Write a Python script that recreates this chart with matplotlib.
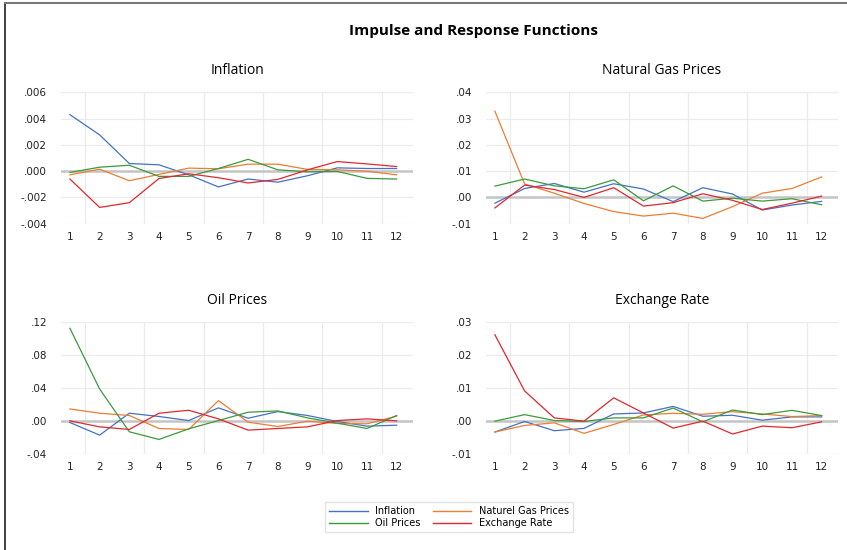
import matplotlib
matplotlib.use("Agg")
import matplotlib.pyplot as plt
from matplotlib.lines import Line2D

periods = list(range(1, 13))

# responses of Inflation
inf_inf = [0.0043, 0.00276, 0.00058, 0.00048, -0.00028, -0.0012, -0.0006, -0.00084, -0.00035, 0.00025, 0.0002, 0.0002]
inf_gas = [-0.00028, 0.00015, -0.00073, -0.00025, 0.00023, 0.00018, 0.00053, 0.00053, 0.00013, 0.0001, 0.0, -0.00028]
inf_oil = [-0.0001, 0.0003, 0.00045, -0.0004, -0.0004, 0.0002, 0.0009, 0.0001, -0.00005, -0.00002, -0.00055, -0.0006]
inf_exr = [-0.0006, -0.00276, -0.0024, -0.00056, -0.0002, -0.0005, -0.0009, -0.00063, 0.0001, 0.00073, 0.00055, 0.00035]

# responses of Natural Gas Prices
gas_inf = [-0.0022, 0.0034, 0.0053, 0.002, 0.0052, 0.0032, -0.0016, 0.0037, 0.0013, -0.0048, -0.0029, -0.0015]
gas_gas = [0.0328, 0.0051, 0.0016, -0.0023, -0.0054, -0.0071, -0.006, -0.008, -0.0035, 0.0016, 0.0034, 0.0078]
gas_oil = [0.0043, 0.007, 0.0044, 0.0033, 0.0067, -0.0013, 0.0044, -0.0014, -0.0003, -0.0014, -0.0005, -0.0028]
gas_exr = [-0.004, 0.0047, 0.003, 0.0, 0.0037, -0.0033, -0.002, 0.0014, -0.0011, -0.0046, -0.0022, 0.0005]

# responses of Oil Prices
oil_inf = [-0.002, -0.0174, 0.0093, 0.0053, 0.0004, 0.0158, 0.0032, 0.0113, 0.0065, -0.0008, -0.0065, -0.0053]
oil_gas = [0.0145, 0.0093, 0.0065, -0.0093, -0.0105, 0.0246, -0.0016, -0.0069, -0.0004, -0.0032, -0.0036, 0.0057]
oil_oil = [0.1127, 0.0388, -0.0133, -0.0226, -0.0097, 0.0004, 0.0105, 0.0121, 0.0036, -0.0028, -0.0093, 0.0065]
oil_exr = [0.0, -0.0073, -0.0105, 0.0093, 0.0129, 0.0024, -0.0113, -0.0093, -0.0073, 0.0004, 0.0024, 0.0]

# responses of Exchange Rate
exr_inf = [-0.0034, -0.0002, -0.003, -0.0023, 0.0021, 0.0024, 0.0044, 0.0014, 0.0017, 0.0002, 0.0012, 0.0012]
exr_gas = [-0.0034, -0.0014, -0.0006, -0.0038, -0.0011, 0.0018, 0.0023, 0.002, 0.0028, 0.0021, 0.0013, 0.0016]
exr_oil = [-0.0001, 0.0019, 0.0001, -0.0002, 0.0009, 0.0009, 0.0039, -0.0003, 0.0033, 0.0019, 0.0032, 0.0016]
exr_exr = [0.0262, 0.0091, 0.0009, -0.0001, 0.007, 0.0024, -0.0022, -0.0001, -0.004, -0.0016, -0.0021, -0.0003]

shock_names = ["Inflation", "Naturel Gas Prices", "Oil Prices", "Exchange Rate"]
colors = ["#4472C4", "#ED7D31", "#3C9A3C", "#E0282E"]

panels = [
    ("Inflation", [inf_inf, inf_gas, inf_oil, inf_exr], [-0.004, -0.002, 0.0, 0.002, 0.004, 0.006], 3),
    ("Natural Gas Prices", [gas_inf, gas_gas, gas_oil, gas_exr], [-0.01, 0.0, 0.01, 0.02, 0.03, 0.04], 2),
    ("Oil Prices", [oil_inf, oil_gas, oil_oil, oil_exr], [-0.04, 0.0, 0.04, 0.08, 0.12], 2),
    ("Exchange Rate", [exr_inf, exr_gas, exr_oil, exr_exr], [-0.01, 0.0, 0.01, 0.02, 0.03], 2),
]

W, H = 847, 550
fig = plt.figure(figsize=(W / 100, H / 100), dpi=100)

# pixel boxes: left, top, width, height
boxes = [(61, 92.3, 352, 131.4), (486, 92.3, 352, 131.4),
         (61, 322.3, 352, 131.4), (486, 322.3, 352, 131.4)]

def fmt(v, dec):
    s = f"{v:.{dec}f}"
    return s.replace("0.", ".", 1)

for (title, series, ticks, dec), (l, t, w, h) in zip(panels, boxes):
    ax = fig.add_axes([l / W, 1 - (t + h) / H, w / W, h / H])
    for vals, c, name in zip(series, colors, shock_names):
        ax.plot(periods, vals, color=c, lw=0.9, zorder=3)
    ax.set_xlim(0.7, 12.55)
    ax.set_ylim(ticks[0], ticks[-1])
    ax.set_yticks(ticks)
    ax.set_yticklabels([fmt(v, dec) for v in ticks])
    ax.set_xticks(periods)
    ax.set_xticklabels([str(p) for p in periods])
    for v in ticks:
        if v == 0:
            ax.axhline(v, color="#C4C4C4", lw=1.8, zorder=2)
        else:
            ax.axhline(v, color="#EBEBEB", lw=0.9, zorder=1)
    for xv in [1.5, 3.5, 5.5, 7.5, 9.5, 11.5]:
        ax.axvline(xv, color="#EBEBEB", lw=0.9, zorder=1)
    for s in ax.spines.values():
        s.set_visible(False)
    ax.tick_params(length=0, labelsize=7.5, pad=6, colors="#222222")
    ax.tick_params(axis="y", pad=10)
    ax.set_title(title, fontsize=10, pad=13, family="Open Sans")

fig.text(473 / W, 1 - 31 / H, "Impulse and Response Functions", ha="center", va="center",
         fontsize=11, fontweight="bold", family="Open Sans")

# outer frame: left and top lines
fig.add_artist(Line2D([5 / W, 5 / W], [0, 1 - 3 / H], color="#222222", lw=1.2))
fig.add_artist(Line2D([5 / W, 1], [1 - 3 / H, 1 - 3 / H], color="#777777", lw=1.5))

handles = [Line2D([], [], color=c, lw=1) for c in colors]
order = [0, 2, 1, 3]
fig.legend([handles[i] for i in order], [shock_names[i] for i in order], ncol=2,
           loc="center", bbox_to_anchor=(449 / W, 1 - 517 / H), fontsize=7,
           frameon=True, edgecolor="#DDDDDD", fancybox=False, handlelength=4,
           columnspacing=1.2, labelspacing=0.2, borderpad=0.4)

fig.savefig("out.png", dpi=100)
